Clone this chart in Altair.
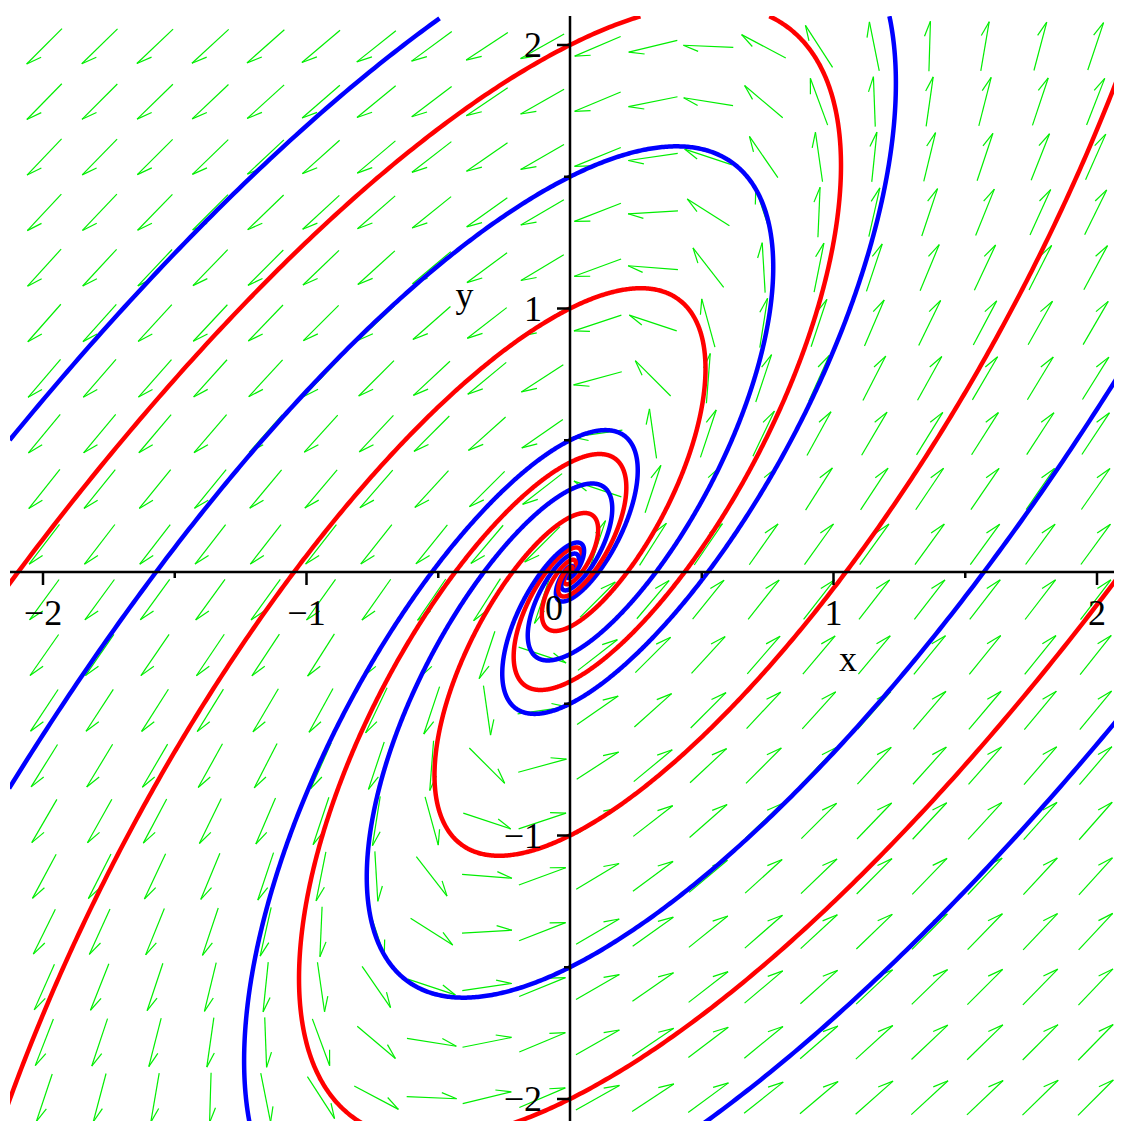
import numpy as np
import pandas as pd
import altair as alt

alt.data_transformers.disable_max_rows()

# ---- data ----
# linear system:  x' = 3x - 2y ,  y' = 4x - y
coef_x = [3.0, -2.0]
coef_y = [4.0, -1.0]

# initial conditions of the drawn trajectories (all on the y axis)
init_x = [0.0, 0.0, 0.0, 0.0, 0.0, 0.0, 0.0, 0.0]
init_y = [2.0, 1.5, 1.0, 0.5, -0.5, -1.0, -1.5, -2.0]
init_color = ["#ff0000", "#0000ff", "#ff0000", "#0000ff",
              "#0000ff", "#ff0000", "#0000ff", "#ff0000"]
t_back = -6.0

# direction-field grid
grid_n = 20
field_range = [-2.1, 2.1]

# axes
x_tick_major = [-2, -1, 1, 2]
x_tick_minor = [-1.5, -0.5, 0.5, 1.5]
x_tick_labels = ["\u22122", "\u22121", "1", "2"]
y_tick_major = [-2, -1, 1, 2]
y_tick_minor = [-1.5, -0.5, 0.5, 1.5]
y_tick_labels = ["\u22122", "\u22121", "1", "2"]
axis_titles = ["x", "y"]
axis_title_x = [1.055, -0.40]
axis_title_y = [-0.376, 1.006]

# ---- layout ----
PX = 263.5
X_DOM = [(10 - 570) / PX, (1114 - 570) / PX]
Y_DOM = [(572 - 1121) / PX, (572 - 16) / PX]
W, H = 1104, 1105
VIEW_X = 2.14        # curves are cut where they leave this box
VIEW_Y = 2.11
FONT = "Liberation Serif"
FS = 36


def field(x, y):
    return coef_x[0] * x + coef_x[1] * y, coef_y[0] * x + coef_y[1] * y


def integrate(x0, y0, dt, tmax, box=2.6):
    xs, ys = [x0], [y0]
    x, y, t = x0, y0, 0.0
    while abs(t) < abs(tmax):
        k1 = field(x, y)
        k2 = field(x + dt / 2 * k1[0], y + dt / 2 * k1[1])
        k3 = field(x + dt / 2 * k2[0], y + dt / 2 * k2[1])
        k4 = field(x + dt * k3[0], y + dt * k3[1])
        x += dt / 6 * (k1[0] + 2 * k2[0] + 2 * k3[0] + k4[0])
        y += dt / 6 * (k1[1] + 2 * k2[1] + 2 * k3[1] + k4[1])
        t += dt
        xs.append(x)
        ys.append(y)
        if abs(x) > box or abs(y) > box:
            break
    return xs, ys


rows = []
seg_id = 0
for i, (x0, y0, c) in enumerate(zip(init_x, init_y, init_color)):
    bx, by = integrate(x0, y0, -0.003, t_back)
    fx, fy = integrate(x0, y0, 0.003, 10.0)
    xs = bx[::-1] + fx[1:]
    ys = by[::-1] + fy[1:]
    inside_prev = False
    k = 0
    for a, b in zip(xs, ys):
        inside = abs(a) <= VIEW_X and abs(b) <= VIEW_Y
        if inside and not inside_prev:
            seg_id += 1
        if inside:
            rows.append({"id": seg_id, "k": k, "x": a, "y": b, "col": c})
            k += 1
        inside_prev = inside
curves = pd.DataFrame(rows)

# arrows (constant length, single barb)
step = (field_range[1] - field_range[0]) / grid_n
centers = [field_range[0] + step * (i + 0.5) for i in range(grid_n)]
L = 50 / PX
B = 16 / PX
ang = np.deg2rad(-20)
seg = []
for cx in centers:
    for cy in centers:
        u, v = field(cx, cy)
        n = np.hypot(u, v)
        if n == 0:
            continue
        dx, dy = u / n, v / n
        hx, hy = cx + dx * L / 2, cy + dy * L / 2
        tx, ty = cx - dx * L / 2, cy - dy * L / 2
        seg.append({"x": tx, "y": ty, "x2": hx, "y2": hy})
        bx_, by_ = -dx, -dy
        rx = bx_ * np.cos(ang) - by_ * np.sin(ang)
        ry = bx_ * np.sin(ang) + by_ * np.cos(ang)
        seg.append({"x": hx, "y": hy, "x2": hx + rx * B, "y2": hy + ry * B})
arrows = pd.DataFrame(seg)

xs_ = alt.Scale(domain=X_DOM, nice=False, zero=False)
ys_ = alt.Scale(domain=Y_DOM, nice=False, zero=False)


def X(f="x"):
    return alt.X(f"{f}:Q", scale=xs_, axis=None)


def Y(f="y"):
    return alt.Y(f"{f}:Q", scale=ys_, axis=None)


arrow_layer = alt.Chart(arrows).mark_rule(
    color="#00ee00", strokeWidth=1.2, clip=True
).encode(x=X(), y=Y(), x2="x2:Q", y2="y2:Q")

curve_layer = alt.Chart(curves).mark_line(
    strokeWidth=4.5, clip=True, strokeCap="butt", strokeJoin="round"
).encode(
    x=X(), y=Y(), detail="id:N", order="k:Q",
    color=alt.Color("col:N", scale=None),
)

axes_df = pd.DataFrame([
    {"x": X_DOM[0], "y": 0.0, "x2": X_DOM[1], "y2": 0.0},
    {"x": 0.0, "y": Y_DOM[0], "x2": 0.0, "y2": Y_DOM[1]},
])
tick_rows = []
for t in x_tick_major:
    tick_rows.append({"x": t, "y": 0.0, "x2": t, "y2": -13 / PX})
for t in x_tick_minor:
    tick_rows.append({"x": t, "y": 0.0, "x2": t, "y2": -6 / PX})
for t in y_tick_major:
    tick_rows.append({"x": 0.0, "y": t, "x2": -13 / PX, "y2": t})
for t in y_tick_minor:
    tick_rows.append({"x": 0.0, "y": t, "x2": -6 / PX, "y2": t})
axes_df = pd.concat([axes_df, pd.DataFrame(tick_rows)], ignore_index=True)

axis_layer = alt.Chart(axes_df).mark_rule(
    color="black", strokeWidth=2.5, clip=True
).encode(x=X(), y=Y(), x2="x2:Q", y2="y2:Q")

xlab = pd.DataFrame({"x": x_tick_major, "y": [0.0] * len(x_tick_major), "t": x_tick_labels})
ylab = pd.DataFrame({"x": [0.0] * len(y_tick_major), "y": y_tick_major, "t": y_tick_labels})
zlab = pd.DataFrame({"x": [0.0], "y": [0.0], "t": ["0"]})
tlab = pd.DataFrame({"x": axis_title_x, "y": axis_title_y, "t": axis_titles})

txt = dict(font=FONT, fontSize=FS, color="black", baseline="alphabetic")
xlab_layer = alt.Chart(xlab).mark_text(align="center", dy=53, **txt).encode(x=X(), y=Y(), text="t:N")
ylab_layer = alt.Chart(ylab).mark_text(align="right", dx=-28, dy=12, **txt).encode(x=X(), y=Y(), text="t:N")
zlab_layer = alt.Chart(zlab).mark_text(align="center", dx=-16, dy=48, **txt).encode(x=X(), y=Y(), text="t:N")
tlab_layer = alt.Chart(tlab).mark_text(align="center", **txt).encode(x=X(), y=Y(), text="t:N")

chart = alt.layer(
    arrow_layer, curve_layer, axis_layer, xlab_layer, ylab_layer, zlab_layer, tlab_layer
).properties(
    width=W, height=H,
    autosize=alt.AutoSizeParams(type="none"),
    padding={"left": 2, "top": 8, "right": 0, "bottom": 0},
).configure_view(stroke=None)

chart.save("out.html", embed_options={"renderer": "svg", "actions": False})
